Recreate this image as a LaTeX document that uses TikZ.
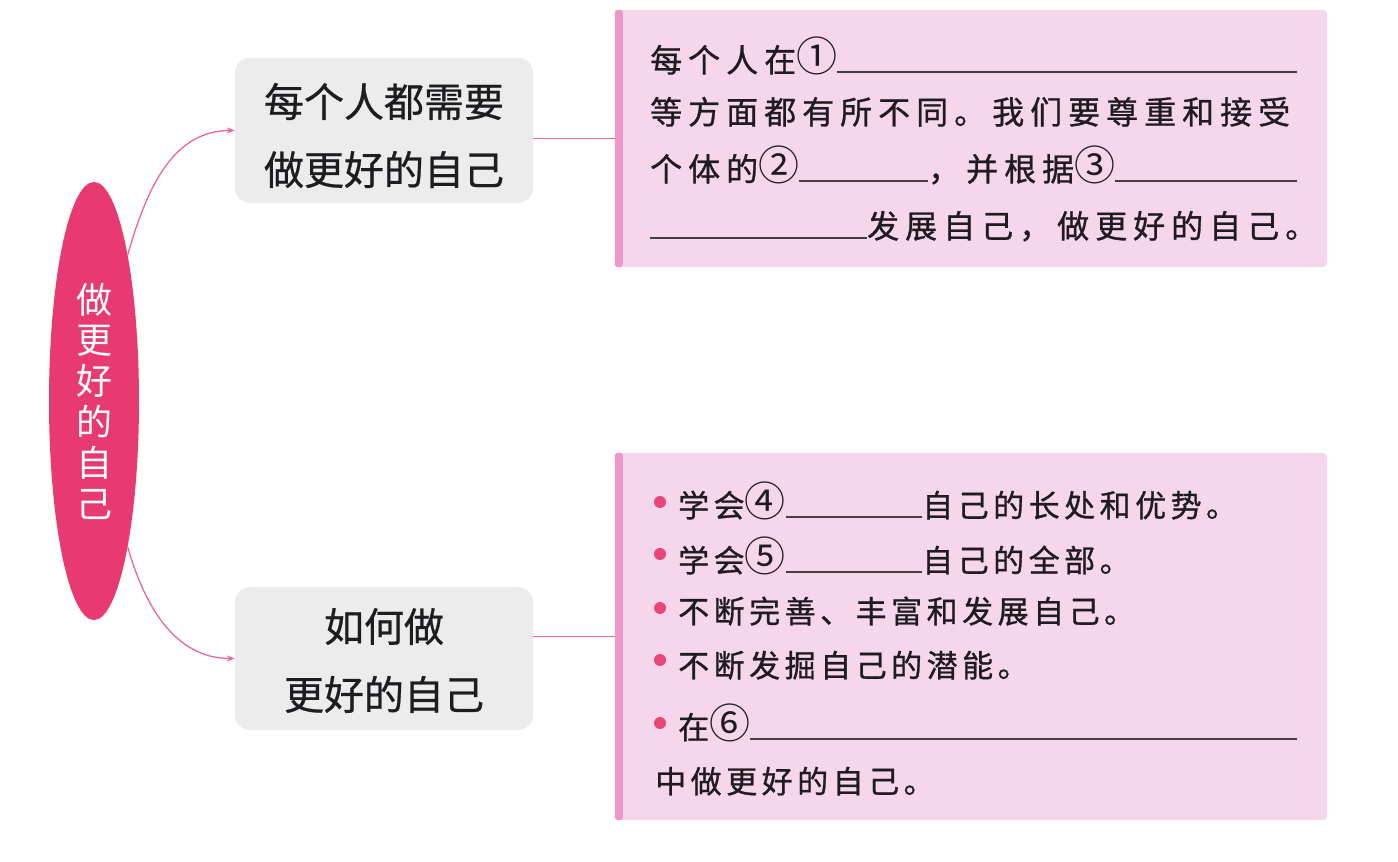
\documentclass[tikz,border=0pt]{standalone}
\usepackage{fontspec}
\setmainfont{Noto Sans CJK SC}
\newfontfamily\cjkplain{Noto Sans CJK SC}
\newfontfamily\cjkmed[FakeBold=0.6]{Noto Sans CJK SC}
\newfontfamily\cjktop[LetterSpace=18.75,FakeBold=0.9]{Noto Sans CJK SC}
\newfontfamily\cjkbot[LetterSpace=14.5,FakeBold=0.9]{Noto Sans CJK SC}
\usetikzlibrary{shapes.geometric,arrows.meta,calc}
\definecolor{rootpink}{RGB}{232,58,112}
\definecolor{linkpink}{RGB}{236,100,160}
\definecolor{boxpink}{RGB}{246,214,234}
\definecolor{strippink}{RGB}{238,150,200}
\definecolor{boxgray}{RGB}{236,236,236}
\definecolor{dotpink}{RGB}{232,70,120}
\definecolor{ink}{RGB}{30,28,32}
\newcommand\topfont{\cjktop\fontsize{32}{38}\selectfont}
\newcommand\botfont{\cjkbot\fontsize{31}{36}\selectfont}
\newcommand\cnum[1]{{\cjkplain\fontsize{41}{38}\selectfont #1\hspace{1pt}}}
\begin{document}
\begin{tikzpicture}[x=1pt,y=1pt,
  rootnode/.style={ellipse,fill=rootpink,inner sep=0,minimum width=90pt,minimum height=438pt,
    text=white,align=center,font=\cjkplain\fontsize{36}{40.8}\selectfont},
  graybox/.style={rectangle,rounded corners=15pt,fill=boxgray,inner sep=0,minimum width=298pt},
  boxtext/.style={inner sep=0,text=ink,align=center,font=\cjkmed\fontsize{40}{68}\selectfont},
  pinkbox/.style={rectangle,rounded corners=4pt,fill=boxpink,inner sep=0,minimum width=712pt},
  strip/.style={fill=strippink,rounded corners=3pt},
  conn/.style={draw=linkpink,line width=1.3pt},
  tl/.style={anchor=base west,inner sep=0,font=\topfont,text=ink},
  bl/.style={anchor=base west,inner sep=0,font=\botfont,text=ink},
  uline/.style={draw=ink!85,line width=1.6pt},
  dotnode/.style={circle,fill=dotpink,inner sep=0,minimum size=12pt}]
\useasboundingbox (0,0) rectangle (1398,862);
\fill[white] (0,0) rectangle (1398,862);

% root
\node[rootnode] (root) at (94,461) {做\\更\\好\\的\\自\\己};

% gray boxes
\node[graybox,minimum height=145pt] (topbox) at (384,731.5) {};
\node[boxtext] (toptext) at ([yshift=-5pt]topbox.center) {每个人都需要\\做更好的自己};
\node[graybox,minimum height=143pt] (botbox) at (384,203.5) {};
\node[boxtext] (bottext) at ([yshift=-2pt]botbox.center) {如何做\\更好的自己};

% pink boxes
\node[pinkbox,minimum height=257pt] (toppink) at (971,723.5) {};
\node[pinkbox,minimum height=367pt] (botpink) at (971,225.5) {};
\fill[strip] (toppink.north west) rectangle ([xshift=8pt]toppink.south west);
\fill[strip] (botpink.north west) rectangle ([xshift=8pt]botpink.south west);

% connectors
\draw[conn,-{Stealth[length=8pt,width=6pt]}] (root.77) to[out=74,in=180] (topbox.west);
\draw[conn,-{Stealth[length=8pt,width=6pt]}] (root.-77) to[out=-74,in=180] (botbox.west);
\draw[conn] (topbox.east |- toppink.west) -- (toppink.west);
\draw[conn] (botbox.east |- botpink.west) -- (botpink.west);

% top pink text
\node[tl] (a1) at (650,790) {每个人在\cnum{①}};
\coordinate (a1e) at (1297,790);
\draw[uline] (a1.base east) -- (a1e);
\node[tl] (a2) at (650,738) {等方面都有所不同。我们要尊重和接受};
\node[tl] (a3) at (650,681) {个体的\cnum{②}};
\node[tl] (a3b) at (928,681) {，并根据\cnum{③}};
\coordinate (a3e) at (1297,681);
\draw[uline] (a3.base east) -- (a3b.base west);
\draw[uline] (a3b.base east) -- (a3e);
\coordinate (a4s) at (650,624);
\node[tl] (a4) at (867,624) {发展自己，做更好的自己。};
\draw[uline] (a4s) -- (a4.base west);

% bottom pink text
\node[dotnode] (d1) at (660,360) {};
\node[dotnode] (d2) at (660,308) {};
\node[dotnode] (d3) at (660,254) {};
\node[dotnode] (d4) at (660,202) {};
\node[dotnode] (d5) at (660,139) {};
\node[bl] (b1) at (678,345) {学会\cnum{④}};
\node[bl] (b1b) at (922,345) {自己的长处和优势。};
\draw[uline] (b1.base east) -- (b1b.base west);
\node[bl] (b2) at (678,290) {学会\cnum{⑤}};
\node[bl] (b2b) at (922,290) {自己的全部。};
\draw[uline] (b2.base east) -- (b2b.base west);
\node[bl] (b3) at (678,239) {不断完善、丰富和发展自己。};
\node[bl] (b4) at (678,185) {不断发掘自己的潜能。};
\node[bl] (b5) at (678,123) {在\cnum{⑥}};
\coordinate (b5e) at (1297,123);
\draw[uline] (b5.base east) -- (b5e);
\node[bl] (b6) at (655,69) {中做更好的自己。};
\end{tikzpicture}
\end{document}
